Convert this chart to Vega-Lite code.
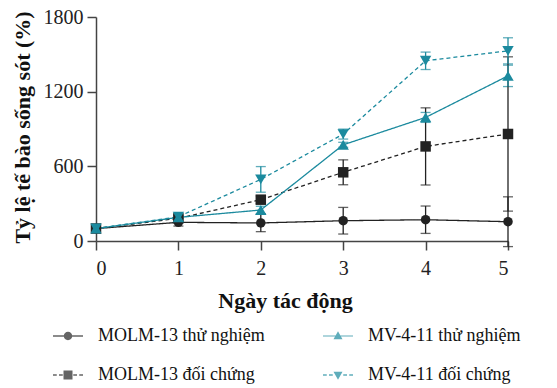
{
  "$schema": "https://vega.github.io/schema/vega-lite/v6.json",
  "width": 412,
  "height": 224,
  "autosize": {"type": "none"},
  "padding": {"left": 96, "top": 17, "right": 49, "bottom": 147},
  "background": "white",
  "config": {
    "view": {"stroke": null},
    "font": "Liberation Serif",
    "axis": {
      "grid": false,
      "domainColor": "#444444",
      "domainWidth": 1.5,
      "tickColor": "#444444",
      "tickWidth": 1.5,
      "tickSize": 9,
      "labelColor": "#222222",
      "labelFont": "Liberation Serif",
      "labelFontSize": 20,
      "titleFont": "Liberation Serif",
      "titleFontSize": 22,
      "titleFontWeight": "bold",
      "titleColor": "#111111"
    }
  },
  "data": {
    "values": [
      {"series": "MOLM-13 thử nghiệm", "day": 0, "mean": 100, "sd": 0},
      {"series": "MOLM-13 thử nghiệm", "day": 1, "mean": 150, "sd": 30},
      {"series": "MOLM-13 thử nghiệm", "day": 2, "mean": 145, "sd": 70},
      {"series": "MOLM-13 thử nghiệm", "day": 3, "mean": 163, "sd": 107},
      {"series": "MOLM-13 thử nghiệm", "day": 4, "mean": 171, "sd": 110},
      {"series": "MOLM-13 thử nghiệm", "day": 5, "mean": 155, "sd": 200},
      {"series": "MOLM-13 đối chứng", "day": 0, "mean": 100, "sd": 0},
      {"series": "MOLM-13 đối chứng", "day": 1, "mean": 182, "sd": 20},
      {"series": "MOLM-13 đối chứng", "day": 2, "mean": 332, "sd": 30},
      {"series": "MOLM-13 đối chứng", "day": 3, "mean": 552, "sd": 100},
      {"series": "MOLM-13 đối chứng", "day": 4, "mean": 760, "sd": 310},
      {"series": "MOLM-13 đối chứng", "day": 5, "mean": 860, "sd": 620},
      {"series": "MV-4-11 thử nghiệm", "day": 0, "mean": 100, "sd": 0},
      {"series": "MV-4-11 thử nghiệm", "day": 1, "mean": 190, "sd": 15},
      {"series": "MV-4-11 thử nghiệm", "day": 2, "mean": 249, "sd": 30},
      {"series": "MV-4-11 thử nghiệm", "day": 3, "mean": 773, "sd": 20},
      {"series": "MV-4-11 thử nghiệm", "day": 4, "mean": 993, "sd": 40},
      {"series": "MV-4-11 thử nghiệm", "day": 5, "mean": 1327, "sd": 86},
      {"series": "MV-4-11 đối chứng", "day": 0, "mean": 100, "sd": 0},
      {"series": "MV-4-11 đối chứng", "day": 1, "mean": 195, "sd": 15},
      {"series": "MV-4-11 đối chứng", "day": 2, "mean": 495, "sd": 103},
      {"series": "MV-4-11 đối chứng", "day": 3, "mean": 859, "sd": 40},
      {"series": "MV-4-11 đối chứng", "day": 4, "mean": 1448, "sd": 70},
      {"series": "MV-4-11 đối chứng", "day": 5, "mean": 1528, "sd": 105}
    ]
  },
  "encoding": {
    "x": {
      "field": "day",
      "type": "quantitative",
      "scale": {"domain": [0, 5], "nice": false, "zero": false},
      "axis": {
        "title": "Ngày tác động",
        "values": [0, 1, 2, 3, 4, 5],
        "format": "d",
        "labelPadding": 8,
        "titleX": 189,
        "titleY": 59,
        "titleBaseline": "middle"
      }
    },
    "y": {
      "field": "mean",
      "type": "quantitative",
      "scale": {"domain": [0, 1800], "nice": false},
      "axis": {
        "title": "Tỷ lệ tế bào sống sót (%)",
        "values": [0, 600, 1200, 1800],
        "format": "d",
        "labelPadding": 4,
        "titleX": -74,
        "titleY": 110,
        "titleBaseline": "middle",
        "titleAlign": "center"
      }
    }
  },
  "layer": [
    {
      "transform": [{"filter": "false"}],
      "mark": {"type": "point", "filled": true, "opacity": 1},
      "encoding": {
        "color": {
          "field": "series",
          "type": "nominal",
          "scale": {
            "domain": ["MOLM-13 thử nghiệm", "MV-4-11 thử nghiệm", "MOLM-13 đối chứng", "MV-4-11 đối chứng"],
            "range": ["#222222", "#1b8a9e", "#222222", "#1b8a9e"]
          },
          "legend": {
            "orient": "none", "legendX": -43, "legendY": 304, "columns": 2, "direction": "horizontal",
            "title": null, "symbolSize": 900, "symbolStrokeWidth": 0, "symbolOpacity": 1,
            "labelFont": "Liberation Serif", "labelFontSize": 18, "labelColor": "#111111",
            "labelOffset": 15, "rowPadding": 15, "columnPadding": 58, "labelLimit": 400
          }
        },
        "shape": {
          "field": "series",
          "type": "nominal",
          "scale": {
            "domain": ["MOLM-13 thử nghiệm", "MV-4-11 thử nghiệm", "MOLM-13 đối chứng", "MV-4-11 đối chứng"],
            "range": [
              "M-1,-0.05H1V0.05H-1Z M0.28,0A0.28,0.28 0 1,1 -0.28,0A0.28,0.28 0 1,1 0.28,0Z",
              "M-1,-0.04H1V0.04H-1Z M0,-0.32L0.3,0.22H-0.3Z",
              "M-1,-0.05H-0.75V0.05H-1Z M-0.6,-0.05H-0.35V0.05H-0.6Z M0.35,-0.05H0.6V0.05H0.35Z M0.75,-0.05H1V0.05H0.75Z M-0.3,-0.3H0.3V0.3H-0.3Z",
              "M-1,-0.05H-0.75V0.05H-1Z M-0.6,-0.05H-0.35V0.05H-0.6Z M0.35,-0.05H0.6V0.05H0.35Z M0.75,-0.05H1V0.05H0.75Z M0,0.32L-0.3,-0.22H0.3Z"
            ]
          },
          "legend": {
            "orient": "none", "legendX": -43, "legendY": 304, "columns": 2, "direction": "horizontal",
            "title": null, "symbolSize": 900, "symbolStrokeWidth": 0, "symbolOpacity": 1,
            "labelFont": "Liberation Serif", "labelFontSize": 18, "labelColor": "#111111",
            "labelOffset": 15, "rowPadding": 15, "columnPadding": 58, "labelLimit": 400
          }
        }
      }
    },
    {
      "mark": {"type": "errorbar", "ticks": {"size": 10}, "thickness": 1.3},
      "encoding": {
        "yError": {"field": "sd"},
        "color": {"field": "series", "type": "nominal"}
      }
    },
    {
      "mark": {"type": "line", "strokeWidth": 1.3},
      "encoding": {
        "color": {"field": "series", "type": "nominal"},
        "strokeDash": {
          "field": "series",
          "type": "nominal",
          "scale": {
            "domain": ["MOLM-13 thử nghiệm", "MV-4-11 thử nghiệm", "MOLM-13 đối chứng", "MV-4-11 đối chứng"],
            "range": [[1, 0], [1, 0], [4, 3], [4, 3]]
          }
        }
      }
    },
    {
      "transform": [{"filter": "datum.series === 'MOLM-13 thử nghiệm'"}],
      "mark": {"type": "point", "filled": true, "opacity": 1, "shape": "circle", "size": 90},
      "encoding": {"color": {"field": "series", "type": "nominal"}}
    },
    {
      "transform": [{"filter": "datum.series === 'MOLM-13 đối chứng'"}],
      "mark": {"type": "point", "filled": true, "opacity": 1, "shape": "square", "size": 110},
      "encoding": {"color": {"field": "series", "type": "nominal"}}
    },
    {
      "transform": [{"filter": "datum.series === 'MV-4-11 thử nghiệm'"}],
      "mark": {"type": "point", "filled": true, "opacity": 1, "shape": "triangle-up", "size": 130},
      "encoding": {"color": {"field": "series", "type": "nominal"}}
    },
    {
      "transform": [{"filter": "datum.series === 'MV-4-11 đối chứng'"}],
      "mark": {"type": "point", "filled": true, "opacity": 1, "shape": "triangle-down", "size": 130},
      "encoding": {"color": {"field": "series", "type": "nominal"}}
    }
  ]
}
